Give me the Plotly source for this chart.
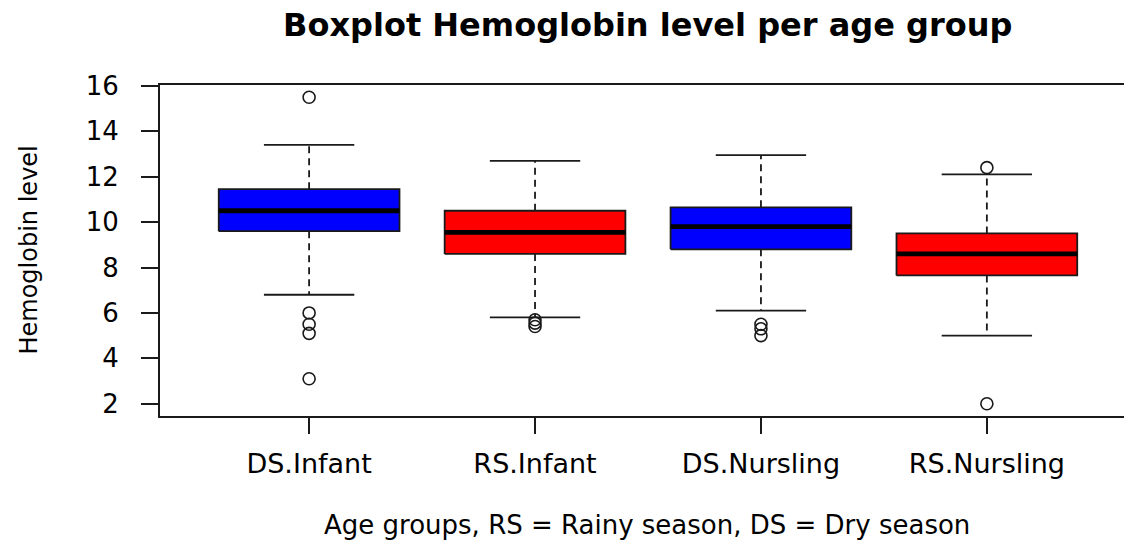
import plotly.graph_objects as go

# ---- data ----
categories = ["DS.Infant", "RS.Infant", "DS.Nursling", "RS.Nursling"]
lower_whisker = [6.8, 5.8, 6.1, 5.0]
q1 = [9.6, 8.6, 8.8, 7.65]
median = [10.5, 9.55, 9.8, 8.6]
q3 = [11.45, 10.5, 10.65, 9.5]
upper_whisker = [13.4, 12.7, 12.95, 12.1]
outliers = [
    [15.5, 6.0, 5.5, 5.1, 3.1],
    [5.7, 5.55, 5.4],
    [5.5, 5.3, 5.0],
    [12.4, 2.0],
]
box_colors = ["#0000FF", "#FF0000", "#0000FF", "#FF0000"]
y_ticks = [2, 4, 6, 8, 10, 12, 14, 16]

FONT = "DejaVu Sans"
INK = "#1a1a1a"
BOX_HALF = 0.4
CAP_HALF = 0.2

fig = go.Figure()

for i, cat in enumerate(categories):
    c = i + 1
    # dashed whiskers
    fig.add_trace(go.Scatter(
        x=[c, c, None, c, c],
        y=[q3[i], upper_whisker[i], None, q1[i], lower_whisker[i]],
        mode="lines", line=dict(color=INK, width=1.8, dash="7px,5px"),
        hoverinfo="skip", showlegend=False))
    # solid caps
    fig.add_trace(go.Scatter(
        x=[c - CAP_HALF, c + CAP_HALF, None, c - CAP_HALF, c + CAP_HALF],
        y=[upper_whisker[i], upper_whisker[i], None, lower_whisker[i], lower_whisker[i]],
        mode="lines", line=dict(color=INK, width=1.8),
        hoverinfo="skip", showlegend=False))
    # box
    fig.add_trace(go.Scatter(
        x=[c - BOX_HALF, c + BOX_HALF, c + BOX_HALF, c - BOX_HALF, c - BOX_HALF],
        y=[q1[i], q1[i], q3[i], q3[i], q1[i]],
        mode="lines", fill="toself", fillcolor=box_colors[i],
        line=dict(color=INK, width=1.8),
        name=cat, showlegend=False))
    # median
    fig.add_trace(go.Scatter(
        x=[c - BOX_HALF, c + BOX_HALF], y=[median[i], median[i]],
        mode="lines", line=dict(color="#000000", width=4.8),
        hoverinfo="skip", showlegend=False))
    # outliers
    fig.add_trace(go.Scatter(
        x=[c] * len(outliers[i]), y=outliers[i],
        mode="markers",
        marker=dict(symbol="circle-open", size=12, color=INK, line=dict(width=1.6)),
        showlegend=False))

fig.update_layout(
    width=1124, height=541,
    margin=dict(l=160, r=0, t=85, b=125),
    paper_bgcolor="white", plot_bgcolor="white",
    font=dict(family=FONT, color="#000000"),
    showlegend=False,
    xaxis=dict(
        range=[0.34, 4.607],
        tickmode="array", tickvals=[1, 2, 3, 4], ticktext=categories,
        showgrid=False, zeroline=False,
        showline=True, linecolor=INK, linewidth=1.8, mirror=True,
        ticks="outside", ticklen=16, tickwidth=1.8, tickcolor=INK,
        tickfont=dict(size=27, family=FONT, color="#000000"),
        ticklabelstandoff=7,
    ),
    yaxis=dict(
        range=[1.46, 16.04],
        tickmode="array", tickvals=y_ticks,
        showgrid=False, zeroline=False,
        showline=True, linecolor=INK, linewidth=1.8, mirror=False,
        ticks="outside", ticklen=17, tickwidth=1.8, tickcolor=INK,
        tickfont=dict(size=26, family=FONT, color="#000000"),
        ticklabelstandoff=17,
    ),
    annotations=[
        dict(text="<b>Boxplot Hemoglobin level per age group</b>",
             xref="paper", yref="paper", x=0.506, y=1 + 60 / 331,
             xanchor="center", yanchor="middle", showarrow=False,
             font=dict(size=32, family=FONT, color="#000000")),
        dict(text="Age groups, RS = Rainy season, DS = Dry season",
             xref="paper", yref="paper", x=0.505, y=-109 / 331,
             xanchor="center", yanchor="middle", showarrow=False,
             font=dict(size=26, family=FONT, color="#000000")),
        dict(text="Hemoglobin level", textangle=-90,
             xref="paper", yref="paper", x=(28 - 160) / 964, y=0.5,
             xanchor="center", yanchor="middle", showarrow=False,
             font=dict(size=24, family=FONT, color="#000000")),
    ],
)

fig.write_html(
    "out.html",
    config={"displayModeBar": False},
    post_script=(
        "document.documentElement.style.overflow='hidden';"
        "document.body.style.margin='0';document.body.style.overflow='hidden';"
    ),
)
